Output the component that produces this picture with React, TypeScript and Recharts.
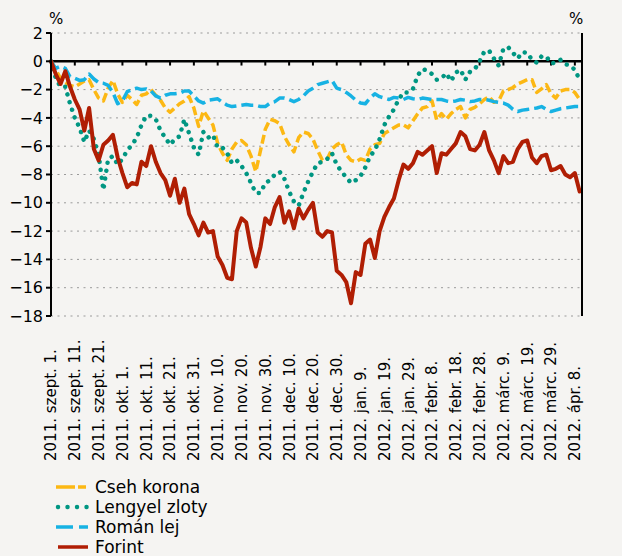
import React from 'react';
import { LineChart, Line, XAxis, YAxis, CartesianGrid, ReferenceLine } from 'recharts';

// napok 2011. szept. 1. óta (kétnaponként mintázva)
const days = [
  0, 2, 4, 6, 8, 10, 12, 14, 16, 18,
  20, 22, 24, 26, 28, 30, 32, 34, 36, 38,
  40, 42, 44, 46, 48, 50, 52, 54, 56, 58,
  60, 62, 64, 66, 68, 70, 72, 74, 76, 78,
  80, 82, 84, 86, 88, 90, 92, 94, 96, 98,
  100, 102, 104, 106, 108, 110, 112, 114, 116, 118,
  120, 122, 124, 126, 128, 130, 132, 134, 136, 138,
  140, 142, 144, 146, 148, 150, 152, 154, 156, 158,
  160, 162, 164, 166, 168, 170, 172, 174, 176, 178,
  180, 182, 184, 186, 188, 190, 192, 194, 196, 198,
  200, 202, 204, 206, 208, 210, 212, 214, 216, 218,
  220, 222,
];

const tickDays = [0, 10, 20, 30, 40, 50, 60, 70, 80, 90, 100, 110, 120, 130, 140, 150, 160, 170, 180, 190, 200, 210, 220];

const tickLabels = [
  '2011. szept. 1.', '2011. szept. 11.', '2011. szept. 21.', '2011. okt. 1.', '2011. okt. 11.',
  '2011. okt. 21.', '2011. okt. 31.', '2011. nov. 10.', '2011. nov. 20.', '2011. nov. 30.',
  '2011. dec. 10.', '2011. dec. 20.', '2011. dec. 30.', '2012. jan. 9.', '2012. jan. 19.',
  '2012. jan. 29.', '2012. febr. 8.', '2012. febr. 18.', '2012. febr. 28.', '2012. márc. 9.',
  '2012. márc. 19.', '2012. márc. 29.', '2012. ápr. 8.',
];

const yTicks = [-18, -16, -14, -12, -10, -8, -6, -4, -2, 0, 2];

const csehKorona = [
  0, -0.6, -1.2, -1.5, -1.7, -1.8, -1.6, -1.4, -1.3, -2.0,
  -2.6, -2.8, -1.9, -1.35, -2.3, -2.9, -2.4, -2.7, -3.05, -2.4,
  -2.3, -2.0, -2.4, -2.75, -3.3, -3.6, -3.3, -3.0, -2.8, -2.5,
  -3.3, -4.6, -3.5, -4.0, -4.5, -5.8, -6.5, -7.0, -6.2, -5.7,
  -5.6, -5.9, -6.7, -7.8, -6.3, -4.8, -4.1, -4.2, -4.4, -5.3,
  -5.9, -6.4, -5.4, -5.0, -5.1, -5.5, -6.3, -7.0, -6.9, -6.2,
  -5.9, -5.7, -6.6, -7.0, -7.1, -6.9, -7.0, -6.2, -5.9, -5.8,
  -5.1, -4.9, -4.7, -4.5, -4.5, -4.7, -4.2, -3.7, -3.3, -3.2,
  -2.8, -4.15, -3.7, -4.1, -3.7, -3.4, -3.2, -4.0, -3.4, -3.25,
  -3.0, -2.7, -2.5, -2.9, -2.8, -2.1, -2.0, -1.85, -1.6, -1.45,
  -1.3, -1.3, -2.2, -1.95, -1.65, -2.3, -2.6, -2.1, -2.0, -2.0,
  -2.2, -2.7,
];

const lengyelZloty = [
  0, -1.2, -1.8, -1.8, -3.0, -4.0, -4.7, -5.7, -4.9, -5.5,
  -6.6, -9.1, -6.9, -6.7, -7.3, -6.9, -6.3, -5.9, -5.4, -4.5,
  -3.85, -3.85, -4.1, -4.9, -5.4, -5.9, -5.5, -5.3, -4.1, -5.1,
  -6.1, -6.6, -5.0, -5.4, -5.2, -6.1, -6.1, -6.5, -7.2, -7.0,
  -7.4, -7.9, -8.6, -9.3, -9.3, -8.6, -8.4, -8.0, -7.8, -8.3,
  -9.2, -9.9, -10.2, -9.3, -8.5, -7.8, -7.2, -7.1, -6.9, -6.5,
  -7.3, -7.8, -8.2, -8.6, -8.4, -8.1, -7.5, -6.7, -6.3, -5.5,
  -4.5, -3.9, -3.4, -2.7, -2.2, -2.2, -1.95, -1.0, -0.55, -0.65,
  -0.9, -1.3, -1.2, -0.85, -1.4, -0.8, -0.6, -1.3, -0.73, -0.55,
  0.0, 0.7, 0.75, 0.2, -0.3, 0.9, 1.0, 0.6, 0.2, 0.65,
  0.6, 0.1, -0.1, 0.35, 0.35, -0.15, -0.1, 0.1, -0.2, -0.3,
  -0.6, -1.3,
];

const romanLej = [
  0, -0.5, -0.35, -0.5, -1.1, -1.2, -1.35, -1.3, -0.9, -1.25,
  -1.5, -1.55, -1.7, -2.2, -3.0, -2.8, -2.15, -2.0, -1.9, -2.0,
  -1.95, -2.1, -2.45, -2.6, -2.4, -2.3, -2.3, -2.25, -2.1, -2.1,
  -2.45, -2.8, -2.95, -2.75, -2.7, -2.65, -2.9, -3.1, -3.2, -3.15,
  -3.1, -3.05, -3.1, -3.1, -3.2, -3.2, -2.95, -2.85, -2.6, -2.6,
  -2.7, -2.85, -2.7, -2.45, -2.1, -1.9, -1.65, -1.55, -1.45, -1.35,
  -1.9, -2.0, -2.2, -2.45, -2.75, -2.95, -3.0, -2.6, -2.3, -2.5,
  -2.6, -2.7, -2.55, -2.6, -2.7, -2.55, -2.65, -2.7, -2.6, -2.65,
  -2.7, -2.7, -2.7, -2.8, -2.85, -2.8, -2.7, -2.75, -2.85, -2.8,
  -2.7, -2.7, -2.75, -2.85, -2.9, -2.95, -3.1, -3.4, -3.55, -3.45,
  -3.4, -3.35, -3.3, -3.2, -3.4, -3.55, -3.45, -3.35, -3.3, -3.25,
  -3.2, -3.2,
];

const forint = [
  0, -0.9, -1.6, -0.7, -1.8, -2.7, -3.4, -4.9, -3.3, -6.2,
  -7.0, -5.9, -5.6, -5.2, -6.8, -7.9, -8.9, -8.6, -8.7, -7.1,
  -7.4, -6.0, -7.1, -7.9, -8.4, -9.5, -8.3, -10.0, -9.0, -10.8,
  -11.5, -12.3, -11.4, -12.1, -12.0, -13.8, -14.4, -15.3, -15.4, -12.0,
  -11.1, -11.4, -13.2, -14.5, -13.1, -11.1, -11.5, -10.3, -9.6, -11.4,
  -10.6, -11.8, -10.4, -11.1, -10.5, -10.0, -12.1, -12.4, -12.0, -12.1,
  -14.8, -15.1, -15.6, -17.1, -14.9, -15.1, -12.9, -12.6, -13.9, -12.0,
  -11.0, -10.3, -9.7, -8.4, -7.3, -7.6, -7.2, -6.4, -6.6, -6.3,
  -6.0, -7.9, -6.5, -6.6, -6.2, -5.8, -5.0, -5.3, -6.2, -6.3,
  -5.9, -5.0, -6.3, -7.0, -7.9, -6.7, -7.2, -7.1, -6.2, -5.7,
  -5.6, -6.8, -7.2, -6.7, -6.6, -7.7, -7.6, -7.4, -8.0, -8.2,
  -7.9, -9.2,
];

const FONT = '"DejaVu Sans", sans-serif';
const BG = '#f5f4f2';

const series = [
  { key: 'cseh', name: 'Cseh korona', color: '#fcb814', width: 3.5, dash: '9 4', cap: 'butt', legendDash: '19 3 8 3' },
  { key: 'lengyel', name: 'Lengyel zloty', color: '#009682', width: 4.5, dash: '0.01 8', cap: 'round', legendDash: '0.01 9.5' },
  { key: 'roman', name: 'Román lej', color: '#17b2e3', width: 3.5, dash: '12 5', cap: 'butt', legendDash: '17 6 9' },
  { key: 'forint', name: 'Forint', color: '#b01e04', width: 4, dash: undefined, cap: 'round', legendDash: undefined },
];

const chartData = days.map((day, i) => ({
  day,
  cseh: csehKorona[i],
  lengyel: lengyelZloty[i],
  roman: romanLej[i],
  forint: forint[i],
}));

const fmt = (v: number) => (v < 0 ? `\u2212${Math.abs(v)}` : `${v}`);

const DateTick = ({ x, payload }: any) => {
  const i = tickDays.indexOf(payload.value);
  return (
    <text
      transform={`translate(${x},461) rotate(-90)`}
      dy="0.36em"
      textAnchor="start"
      fontSize={15}
      fontFamily={FONT}
      fill="#000"
    >
      {tickLabels[i]}
    </text>
  );
};

const RightTick = ({ x, y, payload }: any) => (
  <text x={x + 30} y={y} dy="0.36em" textAnchor="end" fontSize={16} fontFamily={FONT} fill="#000">
    {fmt(payload.value)}
  </text>
);

const axisStyle = { stroke: '#000', strokeWidth: 2 };

export default function App() {
  return (
    <div style={{ position: 'absolute', left: 0, top: 0, width: 622, height: 556, background: BG, fontFamily: FONT }}>
      <LineChart width={622} height={556} data={chartData} margin={{ top: 33, right: 0, bottom: 0, left: 0 }}>
        <CartesianGrid yAxisId="left" vertical={false} stroke="#9a9a9a" strokeDasharray="2 4.5" />
        <XAxis
          dataKey="day"
          type="number"
          domain={[0, 223]}
          ticks={tickDays}
          interval={0}
          tick={<DateTick />}
          axisLine={false}
          tickLine={false}
          height={240}
        />
        <YAxis
          yAxisId="left"
          domain={[-18, 2]}
          ticks={yTicks}
          interval={0}
          width={51}
          axisLine={axisStyle}
          tickLine={axisStyle}
          tickSize={5}
          tickMargin={3}
          tickFormatter={fmt}
          tick={{ fontSize: 16, fill: '#000', fontFamily: FONT }}
        />
        <YAxis
          yAxisId="right"
          orientation="right"
          domain={[-18, 2]}
          ticks={yTicks}
          interval={0}
          width={40}
          axisLine={axisStyle}
          tickLine={axisStyle}
          tickSize={5}
          tick={<RightTick />}
        />
        <ReferenceLine yAxisId="left" y={0} stroke="#000" strokeWidth={2.5} />
        {tickDays.map((d) => (
          <ReferenceLine
            key={`t${d}`}
            yAxisId="left"
            segment={[{ x: d, y: 0 }, { x: d, y: -0.3 }]}
            stroke="#000"
            strokeWidth={2}
          />
        ))}
        {series.map((s) => (
          <Line
            key={s.key}
            yAxisId="left"
            dataKey={s.key}
            name={s.name}
            type="linear"
            stroke={s.color}
            strokeWidth={s.width}
            strokeDasharray={s.dash}
            strokeLinecap={s.cap as any}
            strokeLinejoin="round"
            dot={false}
            activeDot={false}
            isAnimationActive={false}
          />
        ))}
      </LineChart>
      <div style={{ position: 'absolute', left: 49, top: 10, fontSize: 15, color: '#000' }}>%</div>
      <div style={{ position: 'absolute', left: 569, top: 10, fontSize: 15, color: '#000' }}>%</div>
      <div style={{ position: 'absolute', left: 55, top: 477 }}>
        {series.map((s) => (
          <div key={s.key} style={{ display: 'flex', alignItems: 'center', height: 20 }}>
            <svg width={36} height={20}>
              <line
                x1={s.cap === 'round' ? 3 : 1}
                y1={10}
                x2={33}
                y2={10}
                stroke={s.color}
                strokeWidth={s.key === 'lengyel' ? 4.5 : 3.5}
                strokeDasharray={s.legendDash}
                strokeLinecap={s.key === 'lengyel' ? 'round' : 'butt'}
              />
            </svg>
            <span style={{ fontSize: 17, lineHeight: '20px', marginLeft: 4, color: '#000' }}>{s.name}</span>
          </div>
        ))}
      </div>
    </div>
  );
}
